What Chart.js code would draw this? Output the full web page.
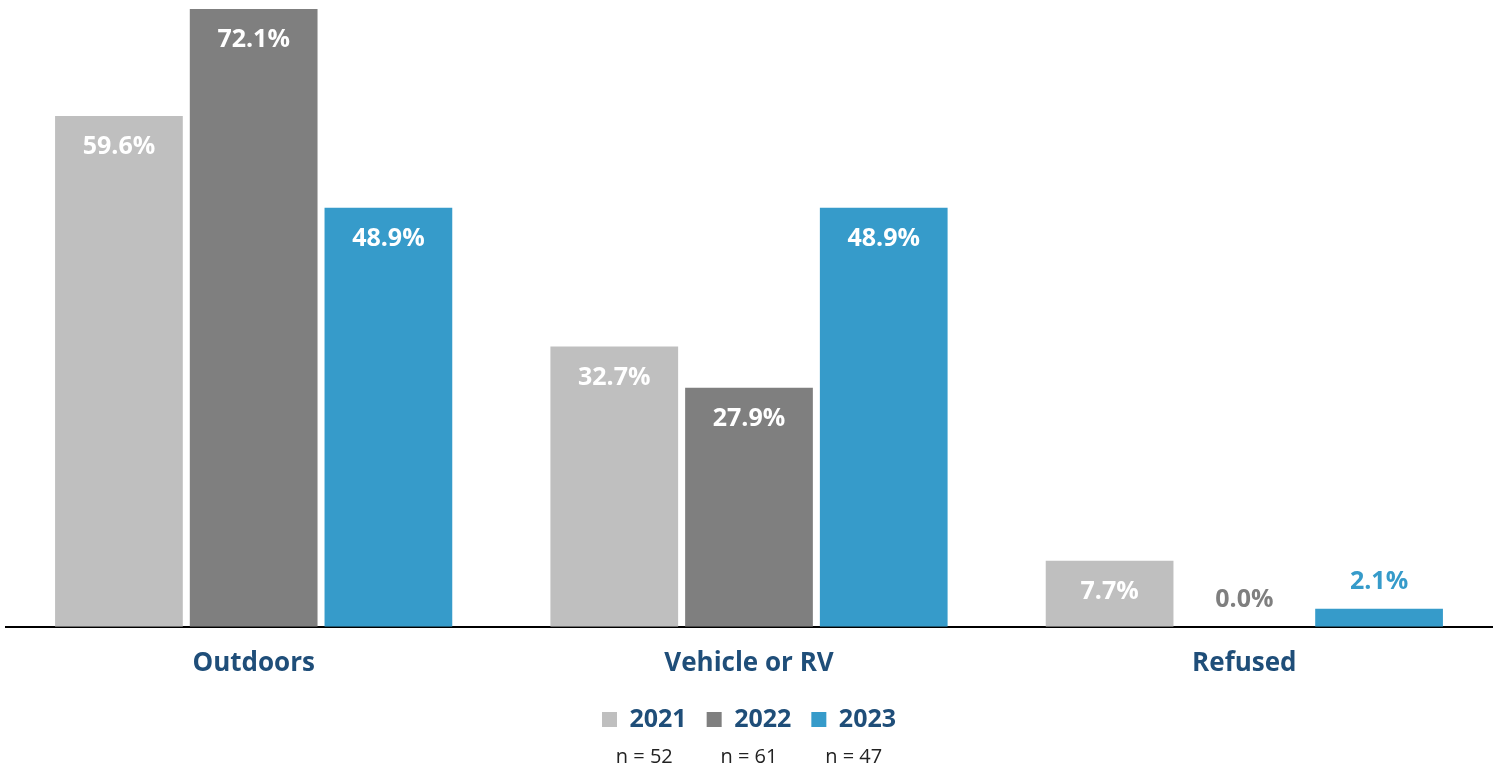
<!DOCTYPE html>
<html>
<head>
<meta charset="utf-8">
<script src="https://cdn.jsdelivr.net/npm/chart.js@4/dist/chart.umd.min.js"></script>
<style>
  html, body { margin: 0; padding: 0; background: #fff; }
  #wrap { width: 1499px; height: 771px; }
</style>
</head>
<body>
<div id="wrap"><canvas id="myChart" width="1499" height="771"></canvas></div>
<script>
const categories = ['Outdoors', 'Vehicle or RV', 'Refused'];
const years = ['2021', '2022', '2023'];
const sampleSizes = ['n = 52', 'n = 61', 'n = 47'];
const values2021 = [59.6, 32.7, 7.7];
const values2022 = [72.1, 27.9, 0.0];
const values2023 = [48.9, 48.9, 2.1];

const colors = ['#bfbfbf', '#7f7f7f', '#369bca'];
const navy = '#1f4e79';
const fontFamily = "'Open Sans', 'DejaVu Sans', sans-serif";

// value labels: white inside tall bars, bar colour above short ones
const barLabels = {
  id: 'barLabels',
  afterDatasetsDraw(chart) {
    const ctx = chart.ctx;
    ctx.save();
    ctx.font = '700 25px ' + fontFamily;
    ctx.textAlign = 'center';
    ctx.textBaseline = 'middle';
    chart.data.datasets.forEach((ds, i) => {
      chart.getDatasetMeta(i).data.forEach((bar, j) => {
        const h = bar.base - bar.y;
        const txt = ds.data[j].toFixed(1) + '%';
        if (h > 45) {
          ctx.fillStyle = '#ffffff';
          ctx.fillText(txt, bar.x, bar.y + 31);
        } else {
          ctx.fillStyle = ds.backgroundColor;
          ctx.fillText(txt, bar.x, bar.y - 27);
        }
      });
    });
    ctx.restore();
  }
};

// sample size under each legend entry
const sampleLabels = {
  id: 'sampleLabels',
  afterDraw(chart) {
    const boxes = chart.legend.legendHitBoxes;
    if (!boxes) return;
    const ctx = chart.ctx;
    ctx.save();
    ctx.font = '400 20px ' + fontFamily;
    ctx.fillStyle = '#222222';
    ctx.textAlign = 'center';
    ctx.textBaseline = 'middle';
    boxes.forEach((b, i) => {
      ctx.fillText(sampleSizes[i], b.left + b.width / 2, 757);
    });
    ctx.restore();
  }
};

const config = {
  type: 'bar',
  data: {
    labels: categories,
    datasets: [
      { label: years[0], data: values2021, backgroundColor: colors[0] },
      { label: years[1], data: values2022, backgroundColor: colors[1] },
      { label: years[2], data: values2023, backgroundColor: colors[2] }
    ]
  },
  options: {
    responsive: false,
    animation: false,
    categoryPercentage: 0.816,
    barPercentage: 0.948,
    layout: { padding: { top: 9, left: 6, right: 7, bottom: 29 } },
    plugins: {
      tooltip: { enabled: false },
      legend: {
        position: 'bottom',
        labels: {
          boxWidth: 15,
          boxHeight: 15,
          padding: 20,
          color: navy,
          font: { family: fontFamily, size: 25, weight: '700' }
        }
      }
    },
    scales: {
      x: {
        grid: { display: false, drawTicks: false },
        border: { display: true, color: '#000000', width: 2 },
        ticks: {
          padding: 21,
          color: navy,
          font: { family: fontFamily, size: 26, weight: '700' }
        },
        afterFit(scale) { scale.height -= 13; }
      },
      y: {
        min: 0,
        max: 72.1,
        display: false
      }
    }
  },
  plugins: [barLabels, sampleLabels]
};

const myChart = new Chart(document.getElementById('myChart'), config);
</script>
</body>
</html>
